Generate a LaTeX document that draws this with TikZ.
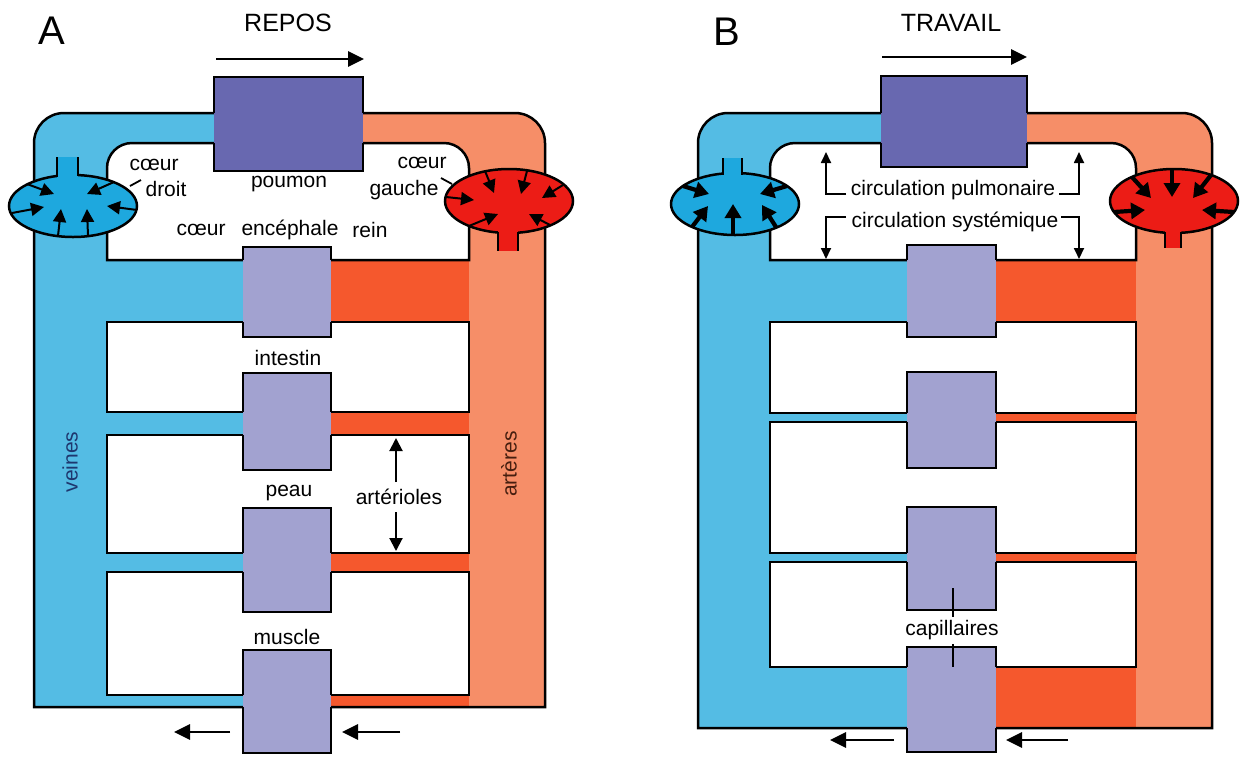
\documentclass[tikz,border=0pt]{standalone}
\usepackage{fontspec}
\setmainfont{Liberation Sans}
\usetikzlibrary{arrows.meta}
\definecolor{vein}{RGB}{84,188,228}
\definecolor{art}{RGB}{246,142,104}
\definecolor{artl}{RGB}{245,88,45}
\definecolor{lung}{RGB}{104,104,176}
\definecolor{organ}{RGB}{162,162,208}
\definecolor{heartb}{RGB}{30,168,222}
\definecolor{heartr}{RGB}{236,28,22}
\definecolor{veintxt}{RGB}{30,55,110}
\definecolor{arttxt}{RGB}{70,30,15}
\begin{document}
\begin{tikzpicture}[x=0.5pt,y=-0.5pt,
  outl/.style={line width=1.25pt, line join=miter},
  lbl/.style={inner sep=0pt, font=\fontsize{10.5}{12}\selectfont},
  ttl/.style={inner sep=0pt, font=\fontsize{12.5}{14}\selectfont},
  big/.style={inner sep=0pt, font=\fontsize{20}{24}\selectfont},
  thinarr/.style={line width=1pt, -{Triangle[length=6.5pt,width=6.5pt]}},
  fatarr/.style={line width=2.1pt, -{Triangle[length=7pt,width=8pt]}},
  flowarr/.style={line width=1.4pt, -{Triangle[length=8pt,width=7.5pt]}},
  brarr/.style={line width=0.9pt, -{Triangle[length=5.5pt,width=5pt]}},
  leader/.style={line width=0.9pt},
]
\path[use as bounding box, fill=white] (0,0) rectangle (1247,756);

%% ================= PANEL A =================
\begin{scope}
 \clip (34,707) -- (34,143) arc[start angle=180,end angle=270,radius=30] -- (515,113) arc[start angle=270,end angle=360,radius=30] -- (545,707) -- cycle;
 \fill[vein] (0,0) rectangle (288,760);
 \fill[art] (288,0) rectangle (620,760);
\end{scope}
\fill[artl] (331,260) rectangle (469,322);
\fill[artl] (331,412) rectangle (469,435);
\fill[artl] (331,553) rectangle (469,572);
\fill[artl] (331,695) rectangle (469,707);
% white rows
\filldraw[outl, fill=white] (107,260) -- (107,168) arc[start angle=180,end angle=270,radius=25] -- (444,143) arc[start angle=270,end angle=360,radius=25] -- (469,260) -- cycle;
\filldraw[outl, fill=white] (107,322) rectangle (469,412);
\filldraw[outl, fill=white] (107,435) rectangle (469,553);
\filldraw[outl, fill=white] (107,572) rectangle (469,695);
% outer outline
\draw[outl] (34,707) -- (34,143) arc[start angle=180,end angle=270,radius=30] -- (515,113) arc[start angle=270,end angle=360,radius=30] -- (545,707) -- cycle;
% boxes
\fill[lung] (214,77) rectangle (363,171);
\fill[organ] (243,247) rectangle (331,337);
\fill[organ] (243,373) rectangle (331,470);
\fill[organ] (243,508) rectangle (331,612);
\fill[organ] (243,650) rectangle (331,753);
\draw[outl] (214,113) -- (214,77) -- (363,77) -- (363,113);
\draw[outl] (214,143) -- (214,171) -- (363,171) -- (363,143);
\draw[outl] (243,260) -- (243,247) -- (331,247) -- (331,260);
\draw[outl] (243,322) -- (243,337) -- (331,337) -- (331,322);
\draw[outl] (243,412) -- (243,373) -- (331,373) -- (331,412);
\draw[outl] (243,435) -- (243,470) -- (331,470) -- (331,435);
\draw[outl] (243,553) -- (243,508) -- (331,508) -- (331,553);
\draw[outl] (243,572) -- (243,612) -- (331,612) -- (331,572);
\draw[outl] (243,695) -- (243,650) -- (331,650) -- (331,695);
\draw[outl] (243,707) -- (243,753) -- (331,753) -- (331,707);
% hearts
\filldraw[outl, fill=heartb] (73,206) ellipse [x radius=64, y radius=31];
\fill[heartb] (57,157) rectangle (78,182);
\draw[outl] (57,157) -- (57,177);
\draw[outl] (78,157) -- (78,176);
\draw[thinarr] (27,184) -- (54,194);
\draw[thinarr] (12,213) -- (44,207);
\draw[thinarr] (58,236) -- (61,209);
\draw[thinarr] (88,236) -- (87,209);
\draw[thinarr] (137,210) -- (107,206);
\draw[thinarr] (114,182) -- (87,194);
\filldraw[outl, fill=heartr] (509,201) ellipse [x radius=64, y radius=32];
\fill[heartr] (498,225) rectangle (518,251);
\draw[outl] (498,232) -- (498,251);
\draw[outl] (518,232) -- (518,251);
\draw[thinarr] (485,171) -- (494,193);
\draw[thinarr] (527,171) -- (521,194);
\draw[thinarr] (563,185) -- (542,198);
\draw[thinarr] (446,197) -- (474,200);
\draw[thinarr] (469,226) -- (498,214);
\draw[thinarr] (550,225) -- (529,214);
% labels
\node[big] (labA) at (52,31) {A};
\node[ttl] (repos) at (288,23) {REPOS};
\coordinate (ra1) at (216,59); \coordinate (ra2) at (364,59);
\draw[flowarr] (ra1) -- (ra2);
\node[lbl] (poumonA) at (289,184) {poumon};
\node[lbl] (coeurdA) at (154,165) {cœur};
\node[lbl] (droitA) at (166,189) {droit};
\coordinate (ld1) at (130,186); \coordinate (ld2) at (141,180);
\draw[leader] (ld1) -- (ld2);
\node[lbl] (coeurgA) at (422,163) {cœur};
\node[lbl] (gaucheA) at (404,190) {gauche};
\coordinate (lg1) at (441,178); \coordinate (lg2) at (452,184);
\draw[leader] (lg1) -- (lg2);
\node[lbl] (coeurA) at (201,230) {cœur};
\node[lbl] (encA) at (290,230) {encéphale};
\node[lbl] (reinA) at (370,230) {rein};
\node[lbl] (intA) at (288,358) {intestin};
\node[lbl] (peauA) at (289,493) {peau};
\node[lbl] (muscA) at (287,637) {muscle};
\node[lbl] (artlA) at (399,497) {artérioles};
\coordinate (au1) at (396,482); \coordinate (au2) at (396,438);
\coordinate (ad1) at (396,512); \coordinate (ad2) at (396,551);
\draw[thinarr] (au1) -- (au2);
\draw[thinarr] (ad1) -- (ad2);
\node[lbl, rotate=90, text=veintxt] (veinesA) at (70,462) {veines};
\node[lbl, rotate=90, text=arttxt] (arteresA) at (509,464) {artères};
\coordinate (ba1) at (230,732); \coordinate (ba2) at (174,732);
\coordinate (ba3) at (400,732); \coordinate (ba4) at (342,732);
\draw[flowarr] (ba1) -- (ba2);
\draw[flowarr] (ba3) -- (ba4);

%% ================= PANEL B =================
\begin{scope}
 \clip (698,728) -- (698,143) arc[start angle=180,end angle=270,radius=30] -- (1182,113) arc[start angle=270,end angle=360,radius=30] -- (1212,728) -- cycle;
 \fill[vein] (640,0) rectangle (951,760);
 \fill[art] (951,0) rectangle (1247,760);
\end{scope}
\fill[artl] (996,260) rectangle (1136,322);
\fill[artl] (996,413) rectangle (1136,422);
\fill[artl] (996,553) rectangle (1136,562);
\fill[artl] (996,667) rectangle (1136,728);
\filldraw[outl, fill=white] (770,260) -- (770,168) arc[start angle=180,end angle=270,radius=25] -- (1111,143) arc[start angle=270,end angle=360,radius=25] -- (1136,260) -- cycle;
\filldraw[outl, fill=white] (770,322) rectangle (1136,413);
\filldraw[outl, fill=white] (770,422) rectangle (1136,553);
\filldraw[outl, fill=white] (770,562) rectangle (1136,667);
\draw[outl] (698,728) -- (698,143) arc[start angle=180,end angle=270,radius=30] -- (1182,113) arc[start angle=270,end angle=360,radius=30] -- (1212,728) -- cycle;
\fill[lung] (881,76) rectangle (1027,167);
\fill[organ] (907,245) rectangle (996,337);
\fill[organ] (907,372) rectangle (996,468);
\fill[organ] (907,507) rectangle (996,610);
\fill[organ] (907,647) rectangle (996,752);
\draw[outl] (881,113) -- (881,76) -- (1027,76) -- (1027,113);
\draw[outl] (881,143) -- (881,167) -- (1027,167) -- (1027,143);
\draw[outl] (907,260) -- (907,245) -- (996,245) -- (996,260);
\draw[outl] (907,322) -- (907,337) -- (996,337) -- (996,322);
\draw[outl] (907,413) -- (907,372) -- (996,372) -- (996,413);
\draw[outl] (907,422) -- (907,468) -- (996,468) -- (996,422);
\draw[outl] (907,553) -- (907,507) -- (996,507) -- (996,553);
\draw[outl] (907,562) -- (907,610) -- (996,610) -- (996,562);
\draw[outl] (907,667) -- (907,647) -- (996,647) -- (996,667);
\draw[outl] (907,728) -- (907,752) -- (996,752) -- (996,728);
% hearts
\filldraw[outl, fill=heartb] (735,204) ellipse [x radius=64, y radius=31];
\fill[heartb] (723,158) rectangle (742,182);
\draw[outl] (723,158) -- (723,175);
\draw[outl] (742,158) -- (742,175);
\draw[fatarr] (683,186) -- (709,194);
\draw[fatarr] (692,227) -- (708,206);
\draw[fatarr] (733,235) -- (733,204);
\draw[fatarr] (776,227) -- (762,205);
\draw[fatarr] (787,186) -- (760,194);
\filldraw[outl, fill=heartr] (1174,201) ellipse [x radius=64, y radius=32];
\fill[heartr] (1165,225) rectangle (1181,248);
\draw[outl] (1165,232) -- (1165,248);
\draw[outl] (1181,232) -- (1181,248);
\draw[fatarr] (1132,177) -- (1151,198);
\draw[fatarr] (1172,169) -- (1172,197);
\draw[fatarr] (1211,175) -- (1193,198);
\draw[fatarr] (1114,212) -- (1145,210);
\draw[fatarr] (1234,212) -- (1202,210);
% labels
\node[big] (labB) at (727,32) {B};
\node[ttl] (travail) at (951,23) {TRAVAIL};
\coordinate (rb1) at (882,57); \coordinate (rb2) at (1027,57);
\draw[flowarr] (rb1) -- (rb2);
\node[lbl] (pulm) at (953,190) {circulation pulmonaire};
\node[lbl] (syst) at (955,222) {circulation systémique};
\coordinate (p1) at (846,194); \coordinate (p2) at (826,194); \coordinate (p3) at (826,152);
\coordinate (p4) at (1059,194); \coordinate (p5) at (1079,194); \coordinate (p6) at (1079,152);
\draw[brarr] (p1) -- (p2) -- (p3);
\draw[brarr] (p4) -- (p5) -- (p6);
\coordinate (s1) at (846,217); \coordinate (s2) at (826,217); \coordinate (s3) at (826,259);
\coordinate (s4) at (1061,217); \coordinate (s5) at (1079,217); \coordinate (s6) at (1079,259);
\draw[brarr] (s1) -- (s2) -- (s3);
\draw[brarr] (s4) -- (s5) -- (s6);
\node[lbl] (capB) at (952,630) {capillaires};
\coordinate (c1) at (953,588); \coordinate (c2) at (953,617);
\coordinate (c3) at (953,644); \coordinate (c4) at (953,667);
\draw[leader] (c1) -- (c2);
\draw[leader] (c3) -- (c4);
\coordinate (bb1) at (894,740); \coordinate (bb2) at (830,740);
\coordinate (bb3) at (1068,740); \coordinate (bb4) at (1006,740);
\draw[flowarr] (bb1) -- (bb2);
\draw[flowarr] (bb3) -- (bb4);
\end{tikzpicture}
\end{document}
